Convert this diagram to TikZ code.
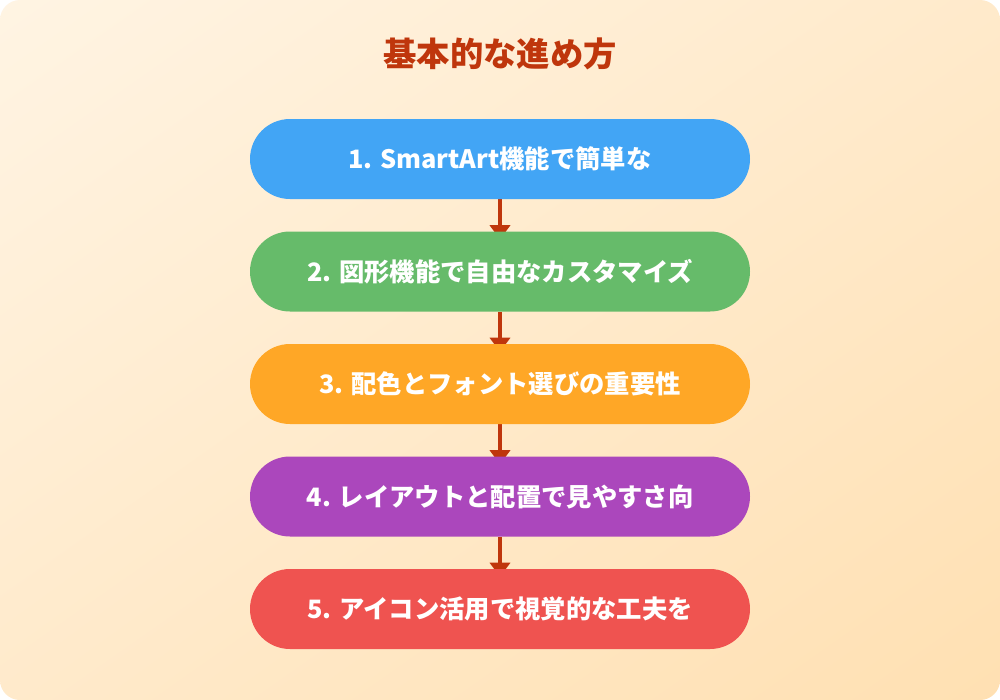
\documentclass[tikz,border=0pt]{standalone}
\usepackage{fontspec}
\newfontfamily\jp{Noto Sans CJK JP}
\usetikzlibrary{arrows.meta,shadings}
\definecolor{bgA}{HTML}{FFF4E3}
\definecolor{bgB}{HTML}{FFE0B2}
\definecolor{bgM}{HTML}{FFEACB}
\definecolor{titlec}{HTML}{BF360C}
\definecolor{c1}{HTML}{42A5F5}
\definecolor{c2}{HTML}{66BB6A}
\definecolor{c3}{HTML}{FFA726}
\definecolor{c4}{HTML}{AB47BC}
\definecolor{c5}{HTML}{EF5350}
\pgfdeclarelayer{bg}
\pgfdeclarelayer{arr}
\pgfsetlayers{bg,arr,main}
\tikzset{
  stepbox/.style={rectangle, rounded corners=30pt, minimum width=375pt, minimum height=60pt,
    inner sep=0pt, text=white, font=\jp\bfseries\fontsize{19pt}{22pt}\selectfont},
  flowarrow/.style={draw=titlec, line width=3.2pt,
    -{Triangle[width=15pt,length=10.5pt]}, shorten >=-6pt},
}
\begin{document}
\begin{tikzpicture}[x=0.75pt,y=-0.75pt]
\begin{pgfonlayer}{bg}
\fill[white] (0,0) rectangle (1000,700);
\shade[rounded corners=15pt, upper left=bgA, lower right=bgB, upper right=bgM, lower left=bgM]
  (0,0) rectangle (1000,700);
\end{pgfonlayer}
\useasboundingbox (0,0) rectangle (1000,700);
\node[text=titlec, font=\jp\bfseries\fontsize{25pt}{30pt}\selectfont] (title) at (500,54) {基本的な進め方};
\node[stepbox, fill=c1] (b1) at (500,159) {1. SmartArt機能で簡単な};
\node[stepbox, fill=c2] (b2) at (500,271.5) {2. 図形機能で自由なカスタマイズ};
\node[stepbox, fill=c3] (b3) at (500,384) {3. 配色とフォント選びの重要性};
\node[stepbox, fill=c4] (b4) at (500,496.5) {4. レイアウトと配置で見やすさ向};
\node[stepbox, fill=c5] (b5) at (500,609) {5. アイコン活用で視覚的な工夫を};
\begin{pgfonlayer}{arr}
\draw[flowarrow] (b1.south) -- (b2.north);
\draw[flowarrow] (b2.south) -- (b3.north);
\draw[flowarrow] (b3.south) -- (b4.north);
\draw[flowarrow] (b4.south) -- (b5.north);
\end{pgfonlayer}
\end{tikzpicture}
\end{document}
